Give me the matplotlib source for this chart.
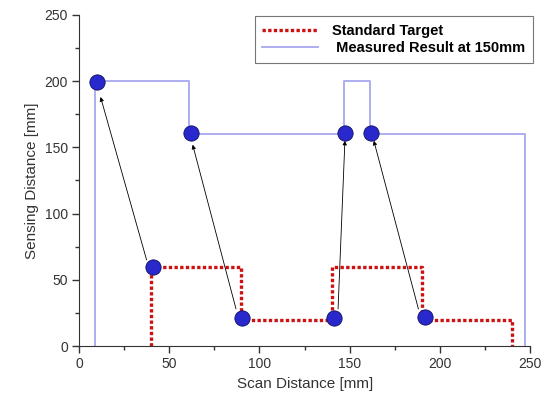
import matplotlib.pyplot as plt
from matplotlib.ticker import MultipleLocator

plt.rcParams['font.family'] = ['Liberation Sans', 'DejaVu Sans']

# standard target profile (step)
target_x = [40, 40, 90, 90, 140, 140, 190, 190, 240, 240]
target_y = [0, 60, 60, 20, 20, 60, 60, 20, 20, 0]

# measured result at 150mm (step)
measured_x = [9, 9, 61, 61, 147, 147, 161, 161, 247, 247]
measured_y = [0, 200, 200, 160, 160, 200, 200, 160, 160, 0]

# marker points
pts_x = [10, 41, 62, 90.5, 141, 147.5, 162, 191.5]
pts_y = [199, 60, 161, 21, 21, 161, 161, 22]

# arrows: (start x, start y) -> (end x, end y)
arrow_from = [(37.5, 65), (87, 28), (143.5, 28), (188, 28)]
arrow_to = [(12, 188), (63, 152), (147.3, 155), (163.3, 155)]

fig = plt.figure(figsize=(5.44, 4.01), dpi=100)
ax = fig.add_axes([0.145, 0.137, 0.83, 0.826])

ax.plot(target_x, target_y, color='#cc1111', lw=2.4, ls=(0, (1, 0.7)),
        label='Standard Target')
ax.plot(measured_x, measured_y, color='#a8a8f0', lw=1.3,
        label=' Measured Result at 150mm')

for (x0, y0), (x1, y1) in zip(arrow_from, arrow_to):
    ax.annotate('', xy=(x1, y1), xytext=(x0, y0),
                arrowprops=dict(arrowstyle='-|>', color='black', lw=0.6,
                                mutation_scale=6, shrinkA=0, shrinkB=0))

ax.plot(pts_x, pts_y, ls='none', marker='o', ms=11, mfc='#2828cc',
        mec='#101060', mew=0.6, zorder=5)

ax.set_xlim(0, 250)
ax.set_ylim(0, 250)
ax.xaxis.set_major_locator(MultipleLocator(50))
ax.xaxis.set_minor_locator(MultipleLocator(25))
ax.yaxis.set_major_locator(MultipleLocator(50))
ax.yaxis.set_minor_locator(MultipleLocator(25))
ax.tick_params(which='major', direction='out', length=5, width=1, labelsize=10,
               colors='#333333', pad=3)
ax.tick_params(which='minor', direction='out', length=3, width=1,
               colors='#333333')
ax.spines['top'].set_visible(False)
ax.spines['right'].set_visible(False)
for s in ['left', 'bottom']:
    ax.spines[s].set_color('#333333')

ax.set_xlabel('Scan Distance [mm]', fontsize=11, color='#333333')
ax.set_ylabel('Sensing Distance [mm]', fontsize=11, color='#333333')

leg = ax.legend(loc='upper right', bbox_to_anchor=(1.005, 0.995), fancybox=False,
                framealpha=1, edgecolor='#777777', prop={'weight': 'bold', 'size': 10.5},
                handlelength=3.8, handletextpad=1.0, borderpad=0.5,
                labelspacing=0.25, borderaxespad=0)
leg.get_frame().set_linewidth(0.8)

fig.savefig('out.png', dpi=100)
